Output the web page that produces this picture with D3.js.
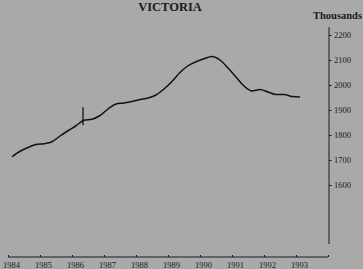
<!DOCTYPE html>
<html>
<head>
<meta charset="utf-8">
<script src="https://cdn.jsdelivr.net/npm/d3@7"></script>
<style>
  html, body { margin: 0; padding: 0; background: #a9a9a9; }
  svg { display: block; }
  text { font-family: "Liberation Serif", "DejaVu Serif", serif; fill: #1a1a1a; }
</style>
</head>
<body>
<svg id="chart" width="363" height="269"></svg>
<script>
// ---- data (quarterly, thousands) ----
const title = "VICTORIA";
const unitLabel = "Thousands";
const years = [1984, 1985, 1986, 1987, 1988, 1989, 1990, 1991, 1992, 1993];
const yTicks = [1600, 1700, 1800, 1900, 2000, 2100, 2200];
// quarter index -> year + quarter
const quarterYears = [];
const quarterNums = [];
for (let y = 1984; y <= 1993; y++) for (let q = 1; q <= 4; q++) { quarterYears.push(y); quarterNums.push(q); }
const values = [
  1713, 1735, 1750, 1762,   // 1984
  1765, 1773, 1796, 1817,   // 1985
  1837, 1859, 1863, 1878,   // 1986
  1904, 1924, 1928, 1934,   // 1987
  1942, 1948, 1960, 1984,   // 1988
  2014, 2050, 2077, 2093,   // 1989
  2105, 2114, 2100, 2068,   // 1990
  2032, 1996, 1976, 1982,   // 1991
  1972, 1962, 1962, 1954,   // 1992
  1952                      // 1993
];
const breakIndex = 9; // vertical break marker on the series

const data = values.map((v, i) => ({ t: quarterYears[i] + (quarterNums[i] - 0.5) / 4, v }));

const svg = d3.select("#chart");

const x = d3.scaleLinear().domain([1984, 1994]).range([8, 328]);
const y = d3.scaleLinear().domain([1600, 2200]).range([185, 35]);

// title
svg.append("text").attr("x", 170).attr("y", 11).attr("text-anchor", "middle")
  .attr("font-size", 12.5).attr("font-weight", "bold").text(title);
svg.append("text").attr("x", 362).attr("y", 19).attr("text-anchor", "end")
  .attr("font-size", 10.5).attr("font-weight", "bold").text(unitLabel);

// right y axis
const yAxisG = svg.append("g").attr("transform", "translate(329,0)");
yAxisG.append("line").attr("x1", 0).attr("x2", 0).attr("y1", 27).attr("y2", 244)
  .attr("stroke", "#1a1a1a").attr("stroke-width", 1);
const yAxis = d3.axisRight(y).tickValues(yTicks).tickSize(2.5).tickPadding(2.5).tickFormat(d3.format("d"));
yAxisG.call(yAxis);
yAxisG.select(".domain").remove();
yAxisG.selectAll(".tick line").attr("stroke", "#1a1a1a");
yAxisG.selectAll(".tick text").attr("font-size", 8.5).attr("font-family", "Liberation Serif").attr("fill", "#1a1a1a");

// bottom x axis
const xAxisG = svg.append("g").attr("transform", "translate(0,257)");
const xAxis = d3.axisTop(x).tickValues(d3.range(1984, 1995)).tickSize(2).tickFormat("");
xAxisG.call(xAxis);
xAxisG.select(".domain").attr("stroke", "#1a1a1a").attr("d", `M${x(1984)},0H${x(1994)}`);
xAxisG.selectAll(".tick line").attr("stroke", "#1a1a1a");
xAxisG.selectAll(".ylab").data(years).join("text")
  .attr("x", d => x(d) + 3.5).attr("y", 11).attr("font-size", 8.5).text(d => d);

// line
const line = d3.line().x(d => x(d.t)).y(d => y(d.v)).curve(d3.curveMonotoneX);
svg.append("path").datum(data).attr("d", line)
  .attr("fill", "none").attr("stroke", "#111").attr("stroke-width", 1.5);

// break marker
const bp = data[breakIndex];
svg.append("line").attr("x1", x(bp.t) - 1).attr("x2", x(bp.t) - 1)
  .attr("y1", y(bp.v) - 13).attr("y2", y(bp.v) + 5)
  .attr("stroke", "#111").attr("stroke-width", 1.3);
</script>
</body>
</html>
